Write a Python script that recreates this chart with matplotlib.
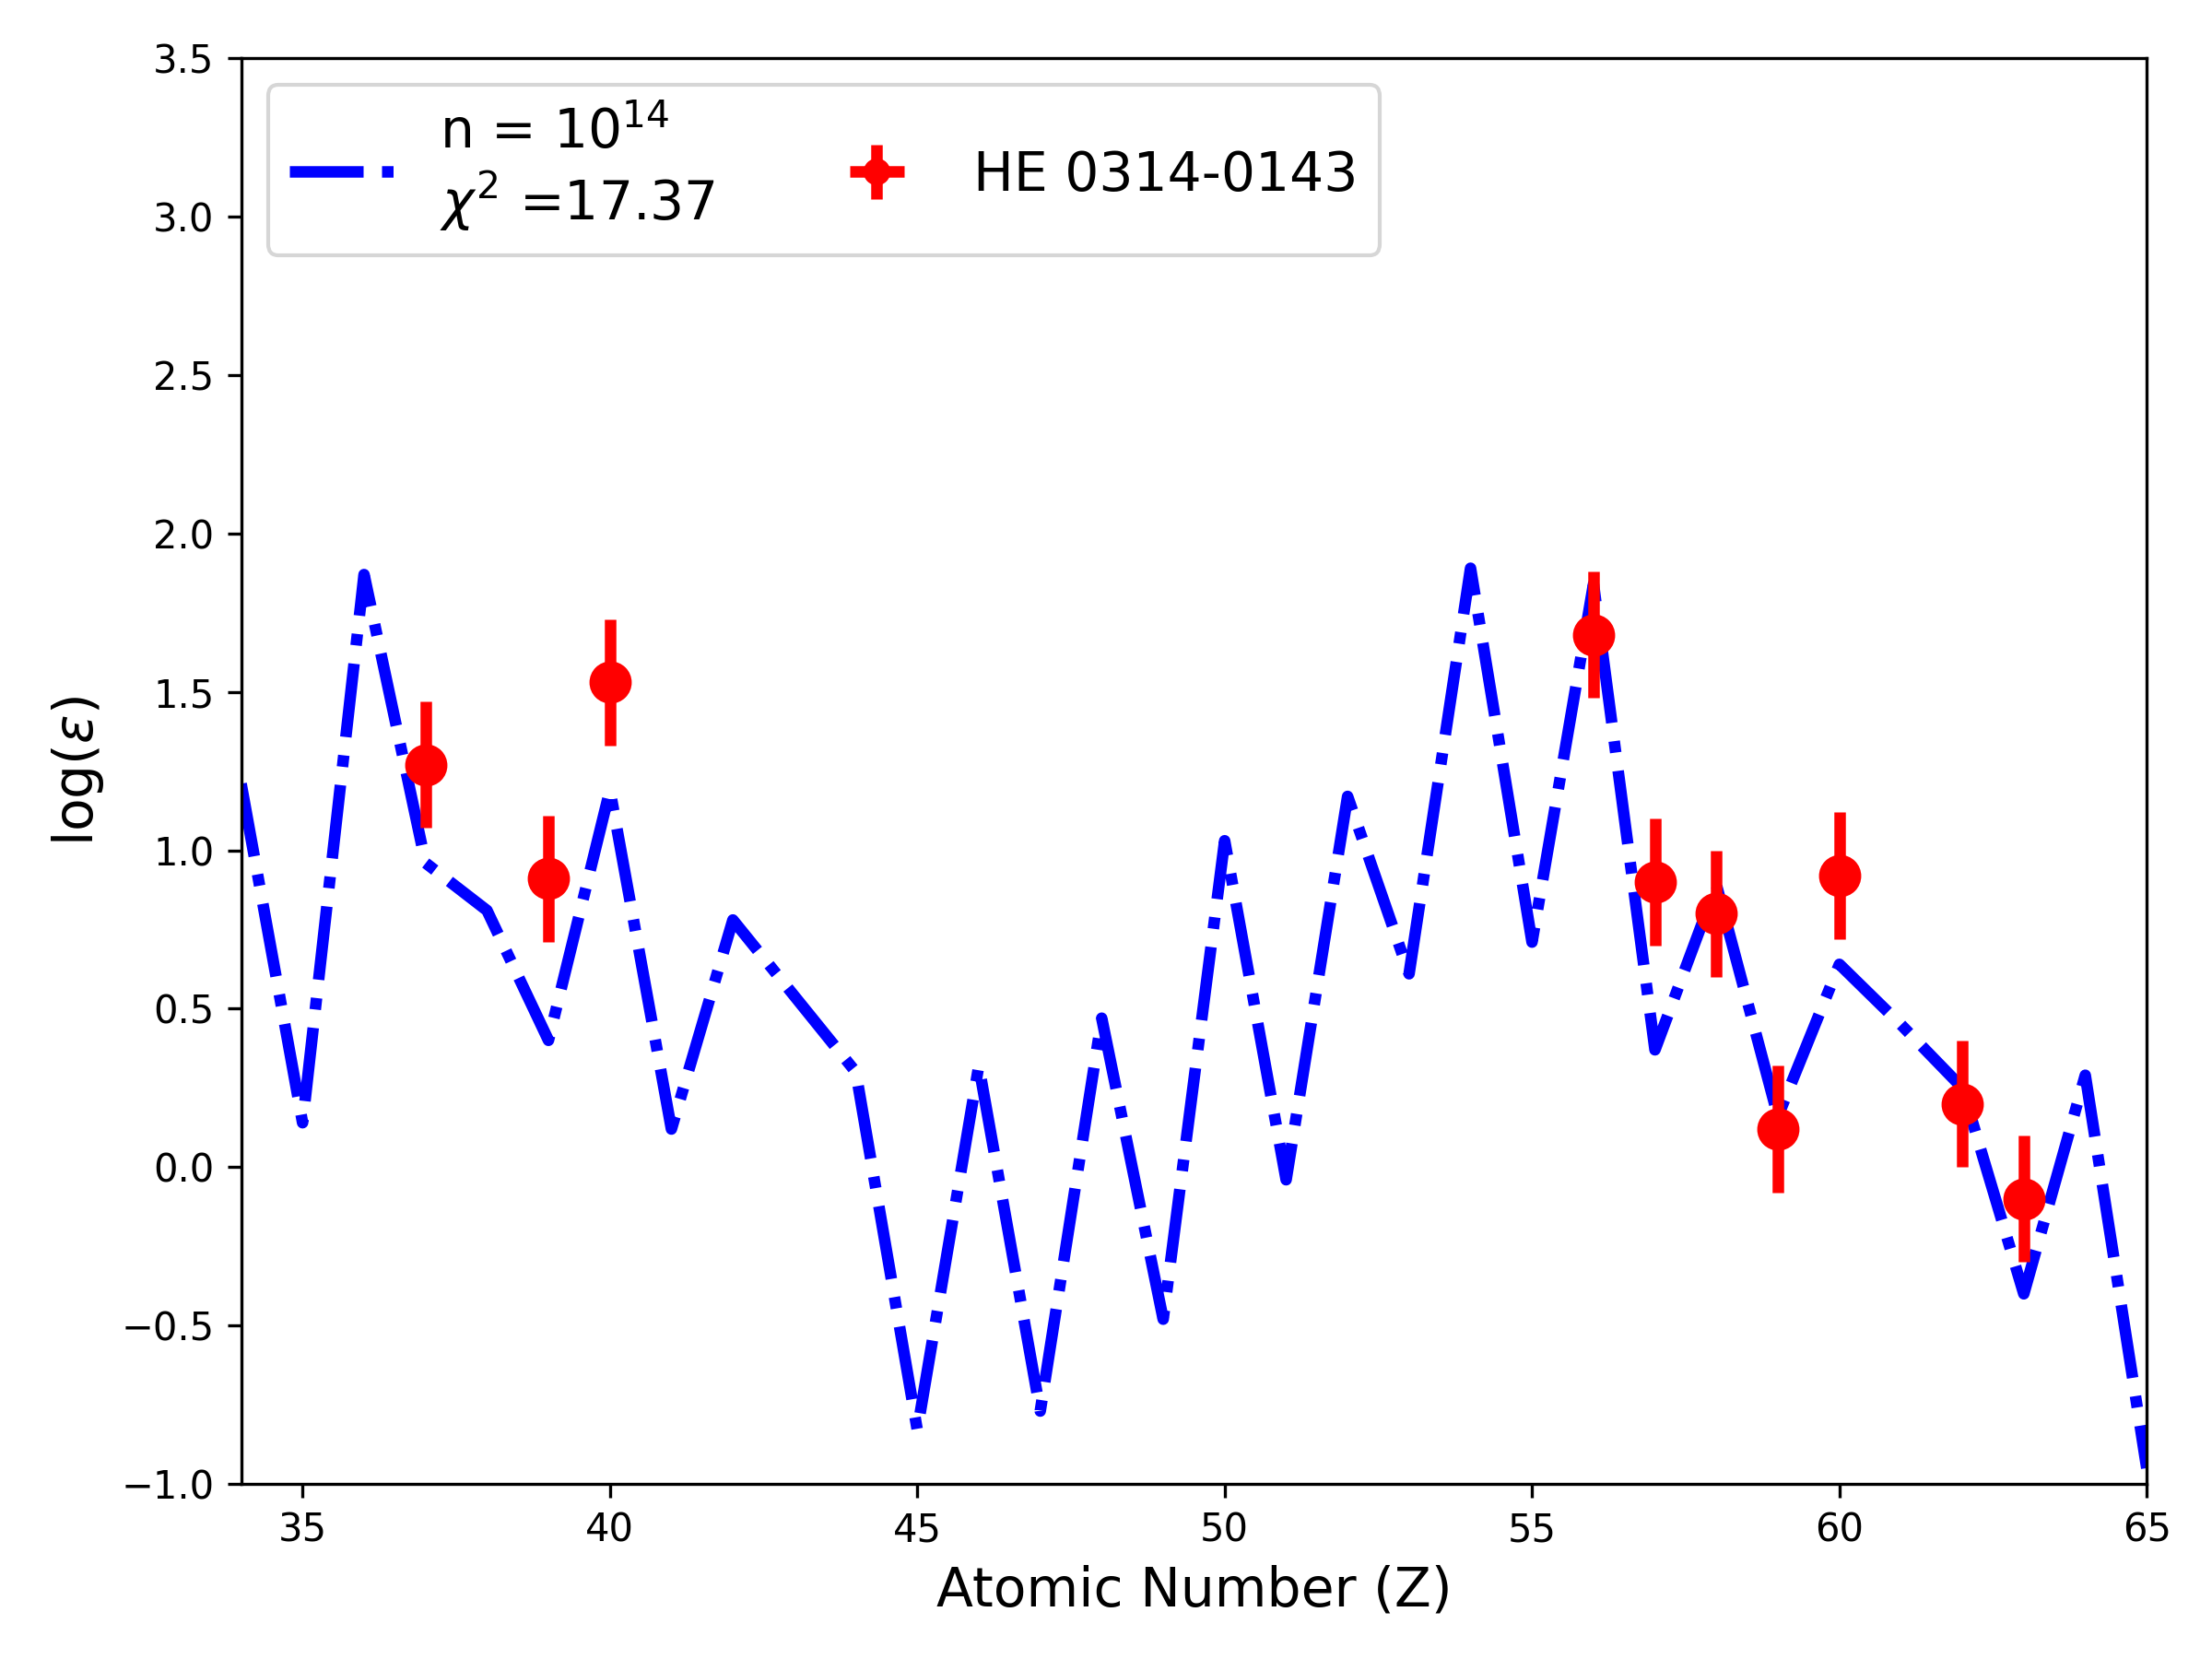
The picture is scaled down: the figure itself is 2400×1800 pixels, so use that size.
import numpy as np
import matplotlib
matplotlib.use('Agg')
import matplotlib.pyplot as plt

# model curve, n = 1e14
z_model = np.arange(34, 66)
log_eps_model = [1.21, 0.14, 1.87, 0.96, 0.81, 0.40, 1.19, 0.12, 0.78, 0.54,
                 0.30, -0.83, 0.32, -0.77, 0.47, -0.48, 1.03, -0.04, 1.17, 0.61,
                 1.89, 0.71, 1.84, 0.37, 0.89, 0.16, 0.64, 0.45, 0.25, -0.40,
                 0.29, -0.95]

# observed abundances of HE 0314-0143
z_obs = [37, 39, 40, 56, 57, 58, 59, 60, 62, 63]
log_eps_obs = [1.27, 0.91, 1.53, 1.68, 0.90, 0.80, 0.12, 0.92, 0.20, -0.10]
log_eps_err = [0.2, 0.2, 0.2, 0.2, 0.2, 0.2, 0.2, 0.2, 0.2, 0.2]

chi2 = 17.37

plt.figure(figsize=(8, 6))

plt.plot(z_model, log_eps_model, '-.', color='blue', lw=3,
         label='n = $10^{14}$\n$\\chi^2$ =' + str(chi2))
plt.errorbar(z_obs, log_eps_obs, yerr=log_eps_err, xerr=0, fmt='o',
             color='red', ms=10, elinewidth=3, label='HE 0314-0143')

plt.xlim(34, 65)
plt.ylim(-1.0, 3.5)
plt.xlabel('Atomic Number (Z)', fontsize=14)
plt.ylabel(r'log($\epsilon$)', fontsize=14)
plt.legend(loc='upper left', ncol=2, fontsize=14, markerscale=0.6)

plt.subplots_adjust(left=0.109, right=0.9705, top=0.965, bottom=0.1055)
plt.savefig('out.png', dpi=300)
